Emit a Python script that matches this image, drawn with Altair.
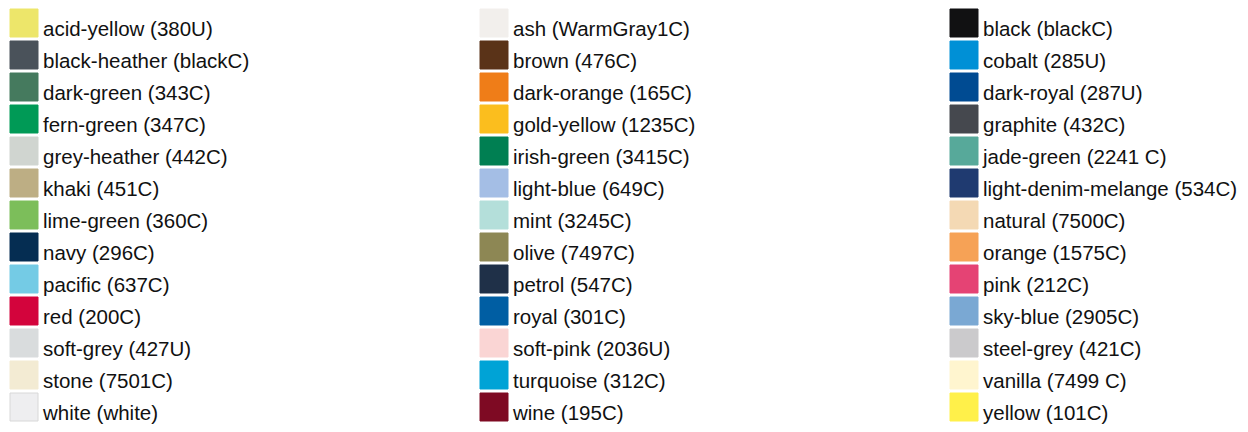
import altair as alt
import pandas as pd

names = [
    "acid-yellow (380U)", "black-heather (blackC)", "dark-green (343C)", "fern-green (347C)",
    "grey-heather (442C)", "khaki (451C)", "lime-green (360C)", "navy (296C)",
    "pacific (637C)", "red (200C)", "soft-grey (427U)", "stone (7501C)", "white (white)",
    "ash (WarmGray1C)", "brown (476C)", "dark-orange (165C)", "gold-yellow (1235C)",
    "irish-green (3415C)", "light-blue (649C)", "mint (3245C)", "olive (7497C)",
    "petrol (547C)", "royal (301C)", "soft-pink (2036U)", "turquoise (312C)", "wine (195C)",
    "black (blackC)", "cobalt (285U)", "dark-royal (287U)", "graphite (432C)",
    "jade-green (2241 C)", "light-denim-melange (534C)", "natural (7500C)", "orange (1575C)",
    "pink (212C)", "sky-blue (2905C)", "steel-grey (421C)", "vanilla (7499 C)", "yellow (101C)",
]
colors = [
    "#EDE66A", "#4A525A", "#457A5E", "#009A56", "#D0D5D0", "#BDAE84", "#7CBE5A",
    "#052D52", "#74CBE5", "#D3043C", "#D9DCDD", "#F3EBD3", "#EEEEF0",
    "#F2EFEC", "#5A3318", "#EF7D18", "#FBBE1E", "#007F52", "#A4BEE5", "#B4DFDA",
    "#8D8754", "#1F3048", "#005EA3", "#FAD5D4", "#00A3D6", "#7E0A23",
    "#111112", "#0090D6", "#004B92", "#45484E", "#57A99A", "#1F3A70", "#F4D9B4",
    "#F6A256", "#E54374", "#7AA8D3", "#CBCACC", "#FFF5CF", "#FFF04A",
]
strokes = [c if c != "#EEEEF0" else "#D8D8D8" for c in colors]

per_col = 13
df = pd.DataFrame({
    "name": names,
    "color": colors,
    "stroke": strokes,
    "col": [i // per_col for i in range(len(names))],
    "row": [i % per_col for i in range(len(names))],
})

xs = alt.Scale(domain=[0, 1], range=[16, 486])
ys = alt.Scale(domain=[0, 12], range=[15, 399])

base = alt.Chart(df).encode(
    x=alt.X("col:Q", scale=xs, axis=None),
    y=alt.Y("row:Q", scale=ys, axis=None),
)

rects = base.mark_rect(width=28, height=28, strokeWidth=1).encode(
    fill=alt.Fill("color:N", scale=None),
    stroke=alt.Stroke("stroke:N", scale=None),
)

texts = base.mark_text(
    align="left", baseline="alphabetic", dx=19, dy=12.5,
    font="Liberation Sans", fontSize=20.5, color="#111111",
).encode(text="name:N")

chart = alt.layer(rects, texts).properties(
    width=1232, height=416, padding=0, autosize=alt.AutoSizeParams(type="none")
).configure_view(stroke=None)

chart.save("out.html", embed_options={"renderer": "svg", "actions": False})
